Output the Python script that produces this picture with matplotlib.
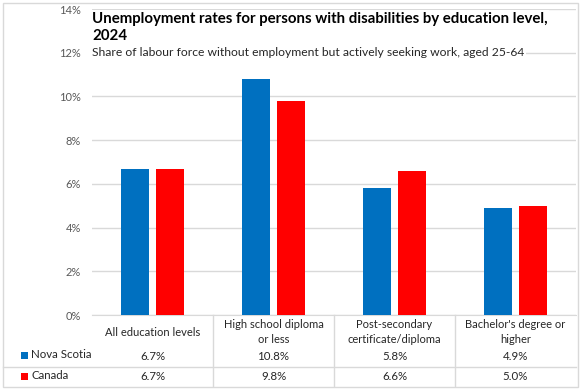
import numpy as np
import matplotlib
matplotlib.use('Agg')
import matplotlib.pyplot as plt
from matplotlib.lines import Line2D
from matplotlib.patches import Rectangle

# Données
categories = ['All education levels', 'High school diploma\nor less',
              'Post-secondary\ncertificate/diploma', "Bachelor's degree or\nhigher"]
nova_scotia = [6.7, 10.8, 5.8, 4.9]
canada = [6.7, 9.8, 6.6, 5.0]
series_names = ['Nova Scotia', 'Canada']
colors = ['#0070C0', '#FF0000']
yticks = [0, 2, 4, 6, 8, 10, 12, 14]

title = 'Unemployment rates for persons with disabilities by education level,\n2024'
subtitle = 'Share of labour force without employment but actively seeking work, aged 25-64'

W, H = 580, 389
plt.rcParams['font.family'] = ['Lato', 'DejaVu Sans']

fig = plt.figure(figsize=(W / 100, H / 100), dpi=100)

# zone du graphique en pixels
left, right, top, bottom = 92, 576, 9, 315
ax = fig.add_axes([left / W, 1 - bottom / H, (right - left) / W, (bottom - top) / H])

x = np.arange(len(categories))
bw = 0.225
gap = 0.065
ax.bar(x - (bw + gap) / 2, nova_scotia, bw, color=colors[0], zorder=3)
ax.bar(x + (bw + gap) / 2, canada, bw, color=colors[1], zorder=3)

ax.set_xlim(-0.5, len(categories) - 0.5)
ax.set_ylim(0, 14)
ax.set_yticks(yticks)
ax.set_yticklabels([f'{v}%' for v in yticks], color='#595959', fontsize=8)
ax.tick_params(axis='y', length=0, pad=8)
ax.tick_params(axis='x', length=0, labelbottom=False)
ax.grid(axis='y', color='#d9d9d9', linewidth=1, zorder=0)
for s in ['left', 'right', 'top']:
    ax.spines[s].set_visible(False)
ax.spines['bottom'].set_color('#d9d9d9')

# Titre et sous-titre (fond blanc qui masque les grilles)
fig.text(left / W, 1 - 27.5 / H, title, fontsize=10.8, fontweight='bold', color='black',
         va='center', ha='left', linespacing=1.35,
         bbox=dict(facecolor='white', edgecolor='none', pad=1))
fig.text(left / W, 1 - 52 / H, subtitle, fontsize=8.7, color='#262626',
         va='center', ha='left',
         bbox=dict(facecolor='white', edgecolor='none', pad=1))

# Tableau de données sous le graphique
def fy(py):
    return 1 - py / H

def fx(px):
    return px / W

col_w = (right - left) / len(categories)
line_c = '#d9d9d9'
for i in range(1, len(categories)):
    xx = fx(left + i * col_w)
    fig.add_artist(Line2D([xx, xx], [fy(bottom), fy(386)], color=line_c, lw=1))
fig.add_artist(Line2D([fx(3), fx(right)], [fy(367), fy(367)], color=line_c, lw=1))
# bordure de la figure
fig.add_artist(Rectangle((fx(2.5), fy(386.5)), fx(W - 5), (H - 5) / H,
                         fill=False, edgecolor=line_c, lw=1))

for i, cat in enumerate(categories):
    cx = fx(left + (i + 0.5) * col_w)
    fig.text(cx, fy(332), cat, ha='center', va='center', fontsize=8,
             color='#262626', linespacing=1.45)
    fig.text(cx, fy(356.5), f'{nova_scotia[i]:.1f}%', ha='center', va='center',
             fontsize=8.3, color='#262626')
    fig.text(cx, fy(376.5), f'{canada[i]:.1f}%', ha='center', va='center',
             fontsize=8.3, color='#262626')

for name, col, py in zip(series_names, colors, [354.5, 375.5]):
    fig.add_artist(Rectangle((fx(21), fy(py + 4)), 7 / W, 7 / H, color=col, lw=0))
    fig.text(fx(31), fy(py), name, ha='left', va='center', fontsize=8.3, color='#262626')

fig.savefig('out.png', dpi=100)
